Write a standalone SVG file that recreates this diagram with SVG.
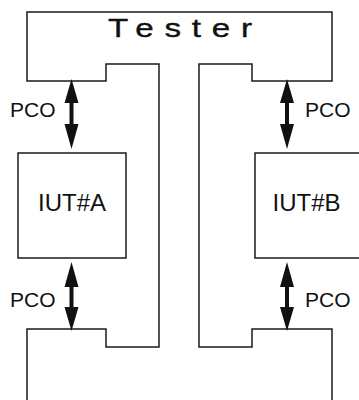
<svg xmlns="http://www.w3.org/2000/svg" width="359" height="400" viewBox="0 0 359 400">
<style>
.ln{fill:none;stroke:#1a1a1a;stroke-width:1.5}
.box{fill:#fff;stroke:#1a1a1a;stroke-width:1.5}
.t{font-family:"Liberation Sans",Arial,sans-serif;fill:#111}
.ar{fill:#111}
</style>
<rect width="359" height="400" fill="#fff"/>
<g id="tester">
<path class="ln" d="M27,400 V329 H106 V347 H159 V64 H106 V81 H27 V12 H332 V81 H252 V64 H199 V347 H252 V329 H332 V400"/>
<text class="t" transform="translate(108,37) scale(1.25,1)" x="0" y="0" font-size="26.5" letter-spacing="8.6" stroke="#111" stroke-width="0.4">Tester</text>
</g>
<g id="iutA">
<rect class="box" x="18" y="153" width="108" height="105"/>
<text class="t" x="72" y="211" font-size="24" text-anchor="middle">IUT#A</text>
</g>
<g id="iutB">
<rect class="box" x="255" y="153" width="108" height="105"/>
<text class="t" x="306.5" y="211" font-size="24" text-anchor="middle">IUT#B</text>
</g>
<g id="connectors">
<g class="ar">
<path d="M71.5,79 L78.5,103 H73.5 V124 H78.5 L71.5,149 L64.5,124 H69.5 V103 H64.5 Z"/>
<path d="M287,79 L294,103 H289 V124 H294 L287,149 L280,124 H285 V103 H280 Z"/>
<path d="M71.5,262 L78.5,287 H73.5 V307 H78.5 L71.5,331 L64.5,307 H69.5 V287 H64.5 Z"/>
<path d="M287,262 L294,287 H289 V307 H294 L287,331 L280,307 H285 V287 H280 Z"/>
</g>
<text class="t" x="10" y="117" font-size="21">PCO</text>
<text class="t" x="305" y="117" font-size="21">PCO</text>
<text class="t" x="10" y="307" font-size="21">PCO</text>
<text class="t" x="305" y="307" font-size="21">PCO</text>
</g>
</svg>
